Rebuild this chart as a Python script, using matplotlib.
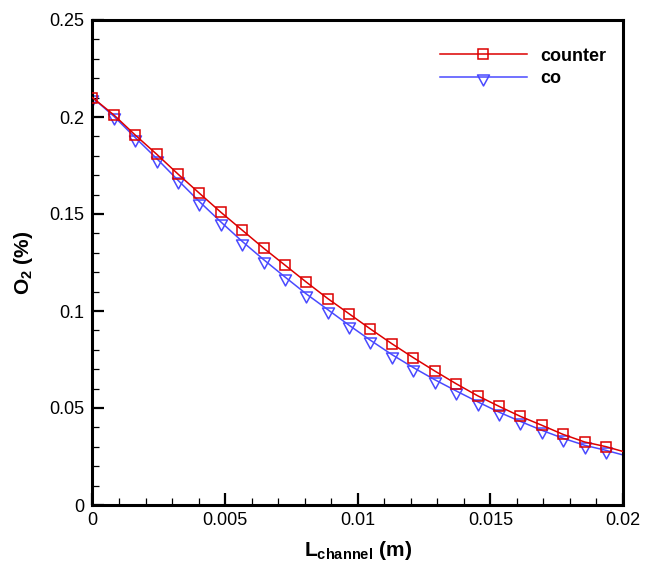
import matplotlib
matplotlib.use("Agg")
import matplotlib.pyplot as plt
from matplotlib.path import Path
from matplotlib.ticker import MultipleLocator

# ---- data ----
x_pos = [0.0, 0.00081, 0.00161, 0.00242, 0.00323, 0.00403, 0.00484, 0.00565,
         0.00645, 0.00726, 0.00806, 0.00887, 0.00968, 0.01048, 0.01129, 0.01210,
         0.01290, 0.01371, 0.01452, 0.01532, 0.01613, 0.01694, 0.01774, 0.01855,
         0.01935, 0.02]
o2_counter = [0.2100, 0.2010, 0.1907, 0.1808, 0.1705, 0.1607, 0.1509, 0.1416,
              0.1324, 0.1236, 0.1149, 0.1064, 0.0985, 0.0907, 0.0831, 0.0759,
              0.0691, 0.0625, 0.0563, 0.0509, 0.0457, 0.0411, 0.0364, 0.0325,
              0.0301, 0.0276]
o2_co = [0.2100, 0.2003, 0.1894, 0.1786, 0.1673, 0.1564, 0.1459, 0.1358,
         0.1265, 0.1175, 0.1088, 0.1007, 0.0926, 0.0849, 0.0775, 0.0708,
         0.0646, 0.0588, 0.0532, 0.0479, 0.0431, 0.0385, 0.0344, 0.0308,
         0.0282, 0.0258]
series_labels = ["counter", "co"]
x_ticks = [0, 0.005, 0.01, 0.015, 0.02]
x_tick_labels = ["0", "0.005", "0.01", "0.015", "0.02"]
y_ticks = [0, 0.05, 0.1, 0.15, 0.2, 0.25]
y_tick_labels = ["0", "0.05", "0.1", "0.15", "0.2", "0.25"]

# ---- style ----
plt.rcParams['font.family'] = ['Liberation Sans', 'DejaVu Sans']
plt.rcParams['mathtext.fontset'] = 'custom'
plt.rcParams['mathtext.rm'] = 'Liberation Sans'
plt.rcParams['mathtext.bf'] = 'Liberation Sans:bold'
plt.rcParams['mathtext.default'] = 'bf'

red = '#dd0000'
blue = '#4a4aff'

tri = Path([(-0.6, 0.25), (0.6, 0.25), (0.0, -0.85), (-0.6, 0.25)],
           [Path.MOVETO, Path.LINETO, Path.LINETO, Path.CLOSEPOLY])

fig = plt.figure(figsize=(6.46, 5.63), dpi=100)
ax = fig.add_axes([92.5 / 646, 58 / 563, (623 - 92.5) / 646, (505 - 20) / 563])

n_mark = len(x_pos) - 1
ax.plot(x_pos, o2_counter, color=red, lw=1.1, marker='s', ms=7.5,
        mfc='none', mec=red, mew=1.1, markevery=list(range(n_mark)),
        label=series_labels[0], zorder=3)
ax.plot(x_pos, o2_co, color=blue, lw=1.1, marker=tri, ms=12.2,
        mfc='none', mec=blue, mew=1.1, markevery=list(range(n_mark)),
        label=series_labels[1], zorder=2)

ax.set_xlim(0, 0.02)
ax.set_ylim(0, 0.25)
ax.set_xticks(x_ticks)
ax.set_xticklabels(x_tick_labels)
ax.set_yticks(y_ticks)
ax.set_yticklabels(y_tick_labels)
ax.xaxis.set_minor_locator(MultipleLocator(0.001))
ax.yaxis.set_minor_locator(MultipleLocator(0.01))

for s in ax.spines.values():
    s.set_linewidth(2.2)
ax.tick_params(which='both', direction='in', top=False, right=False)
ax.tick_params(which='major', length=8.5, width=1.6, labelsize=13, pad=6)
ax.tick_params(which='minor', length=5, width=0.9)
ax.tick_params(axis='x', which='major', pad=5)

ax.set_xlabel("L$_{channel}$ (m)", fontsize=15, fontweight='bold', labelpad=7)
ax.set_ylabel("O$_2$ (%)", fontsize=15, fontweight='bold', labelpad=10)

leg = ax.legend(loc='center left', bbox_to_anchor=(440 / 646, 1 - 67.5 / 563),
                bbox_transform=fig.transFigure, frameon=False,
                prop={'weight': 'bold', 'size': 13}, handlelength=4.8,
                handletextpad=0.75, labelspacing=0.3, borderpad=0,
                borderaxespad=0, numpoints=1)

fig.savefig("out.png", dpi=100)
